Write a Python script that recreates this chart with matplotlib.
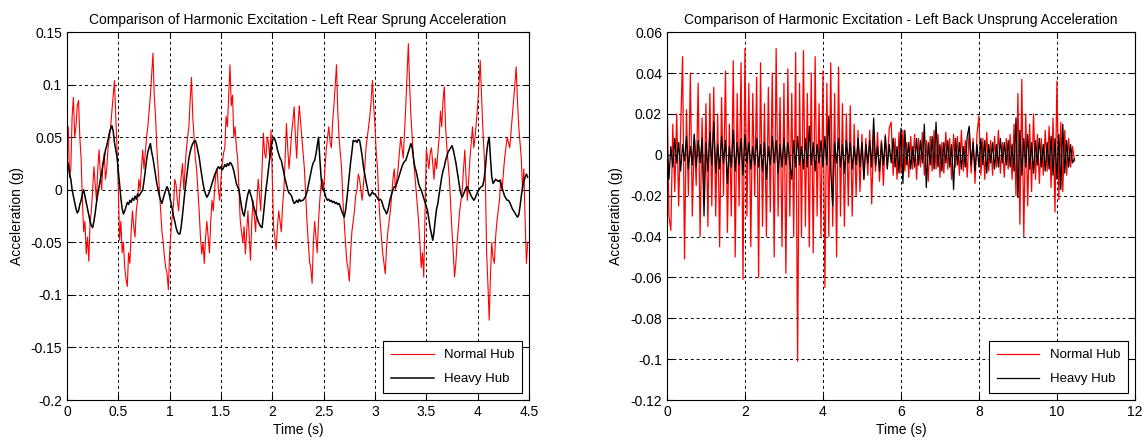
import numpy as np
import matplotlib
matplotlib.use("Agg")
import matplotlib.pyplot as plt
from matplotlib.ticker import FuncFormatter, MultipleLocator

plt.rcParams['font.family'] = ['Liberation Sans', 'DejaVu Sans']

# left panel: sprung acceleration, one sample every 0.0125 s (8 per row = 0.1 s)
sprung_dt = 0.0125
sprung_normal = [
    0.045, 0.06, 0.012, 0.02, 0.07, 0.088, 0.05, 0.06,
    0.08, 0.085, 0.05, 0.03, -0.01, -0.04, -0.03, -0.061,
    -0.045, -0.068, -0.03, -0.02, 0.0, 0.022, 0.005, -0.01,
    0.02, 0.038, 0.015, 0.0, 0.025, 0.035, 0.01, 0.02,
    0.04, 0.05, 0.06, 0.075, 0.09, 0.104, 0.07, 0.04,
    0.0, -0.048, -0.03, -0.06, -0.05, -0.074, -0.085, -0.092,
    -0.06, -0.07, -0.04, -0.02, -0.035, -0.045, -0.02, -0.01,
    0.01, 0.0, 0.02, 0.038, 0.02, 0.035, 0.05, 0.06,
    0.075, 0.09, 0.11, 0.13, 0.09, 0.07, 0.04, 0.02,
    0.0, -0.02, -0.04, -0.05, -0.065, -0.074, -0.08, -0.095,
    -0.06, -0.04, -0.025, -0.015, 0.01, 0.005, -0.01, -0.02,
    0.0, 0.012, 0.025, 0.0, 0.02, 0.038, 0.05, 0.06,
    0.085, 0.107, 0.07, 0.05, 0.03, 0.02, 0.0, -0.02,
    -0.045, -0.061, -0.05, -0.07, -0.045, -0.03, -0.045, -0.06,
    -0.03, -0.01, -0.02, 0.0, 0.015, 0.02, 0.0, -0.01,
    0.01, 0.025, 0.035, 0.04, 0.07, 0.06, 0.09, 0.119,
    0.08, 0.09, 0.05, 0.06, 0.04, 0.03, 0.0, -0.029,
    -0.04, -0.05, -0.035, -0.061, -0.04, -0.02, -0.045, -0.067,
    -0.03, -0.01, -0.025, -0.04, -0.01, 0.01, -0.005, -0.02,
    0.02, 0.054, 0.035, 0.03, 0.05, 0.045, 0.03, 0.057,
    0.01, -0.036, -0.045, -0.057, -0.035, -0.02, -0.03, -0.04,
    -0.015, 0.0, 0.03, 0.063, 0.04, 0.02, 0.035, 0.054,
    0.065, 0.079, 0.05, 0.03, 0.06, 0.08, 0.065, 0.05,
    0.035, 0.02, -0.005, -0.03, -0.05, -0.068, -0.075, -0.089,
    -0.05, -0.03, -0.045, -0.06, -0.03, -0.01, 0.005, 0.01,
    0.0, 0.02, 0.038, 0.05, 0.06, 0.045, 0.04, 0.065,
    0.08, 0.1, 0.119, 0.075, 0.05, 0.035, 0.02, -0.01,
    -0.03, -0.05, -0.068, -0.075, -0.087, -0.06, -0.04, -0.03,
    -0.02, -0.005, 0.0, 0.015, 0.01, 0.0, -0.01, 0.005,
    0.02, 0.04, 0.05, 0.06, 0.07, 0.085, 0.104, 0.08,
    0.06, 0.035, 0.02, -0.01, -0.03, -0.045, -0.06, -0.07,
    -0.08, -0.055, -0.04, -0.03, -0.02, -0.005, 0.01, 0.02,
    0.0, 0.01, 0.02, 0.035, 0.05, 0.04, 0.03, 0.055,
    0.08, 0.11, 0.139, 0.1, 0.07, 0.05, 0.03, 0.015,
    0.0, -0.015, -0.03, -0.05, -0.074, -0.06, -0.083, -0.02,
    0.038, 0.03, 0.02, 0.035, 0.04, 0.025, 0.01, 0.03,
    0.02, 0.035, 0.05, 0.075, 0.06, 0.085, 0.098, 0.06,
    0.04, 0.025, 0.01, -0.015, -0.04, -0.06, -0.083, -0.07,
    -0.05, -0.035, -0.02, -0.01, 0.0, 0.02, 0.038, 0.01,
    -0.01, 0.01, 0.03, 0.045, 0.06, 0.04, 0.05, 0.065,
    0.08, 0.1, 0.123, 0.09, 0.06, 0.035, 0.01, -0.06,
    -0.09, -0.124, -0.08, -0.05, -0.065, -0.07, -0.045, -0.03,
    -0.02, -0.01, 0.01, 0.0, 0.015, 0.03, 0.04, 0.05,
    0.045, 0.04, 0.055, 0.07, 0.085, 0.1, 0.117, 0.085,
    0.06, 0.045, 0.03, 0.0, 0.02, -0.03, -0.07, -0.05,
]
sprung_heavy = [
    0.028, 0.024, 0.015, 0.01, 0.0, -0.006, -0.012, -0.018,
    -0.022, -0.02, -0.014, -0.01, -0.004, 0.0, -0.006, -0.012,
    -0.018, -0.024, -0.03, -0.034, -0.036, -0.03, -0.022, -0.012,
    -0.004, 0.003, 0.01, 0.016, 0.024, 0.03, 0.038, 0.042,
    0.048, 0.054, 0.058, 0.061, 0.056, 0.045, 0.038, 0.031,
    0.018, 0.006, -0.008, -0.018, -0.023, -0.02, -0.016, -0.012,
    -0.014, -0.01, -0.012, -0.008, -0.01, -0.006, -0.009, -0.004,
    -0.006, -0.004, -0.002, 0.0, 0.008, 0.018, 0.028, 0.036,
    0.04, 0.044, 0.036, 0.03, 0.022, 0.014, 0.006, 0.0,
    -0.006, -0.01, -0.013, -0.008, -0.004, 0.0, 0.003, 0.0,
    -0.006, -0.012, -0.018, -0.025, -0.03, -0.036, -0.04, -0.042,
    -0.042, -0.035, -0.024, -0.012, 0.0, 0.01, 0.02, 0.03,
    0.036, 0.041, 0.044, 0.046, 0.047, 0.043, 0.037, 0.031,
    0.022, 0.014, 0.006, 0.0, -0.004, -0.007, -0.005, -0.002,
    0.002, 0.006, 0.01, 0.014, 0.017, 0.02, 0.022, 0.02,
    0.022, 0.019, 0.021, 0.024, 0.022, 0.025, 0.023, 0.026,
    0.025, 0.022, 0.018, 0.012, 0.006, 0.003, 0.0, -0.008,
    -0.016, -0.022, -0.025, -0.018, -0.01, -0.004, 0.0, -0.004,
    -0.008, -0.014, -0.018, -0.022, -0.026, -0.03, -0.033, -0.035,
    -0.036, -0.025, -0.012, 0.0, 0.009, 0.02, 0.03, 0.04,
    0.046, 0.05, 0.048, 0.044, 0.038, 0.034, 0.03, 0.028,
    0.022, 0.016, 0.01, 0.005, 0.0, -0.003, -0.004, -0.006,
    -0.01, -0.013, -0.012, -0.01, -0.012, -0.009, -0.011, -0.01,
    -0.01, -0.008, -0.006, -0.002, 0.004, 0.01, 0.016, 0.022,
    0.026, 0.028, 0.034, 0.042, 0.05, 0.03, 0.012, 0.0,
    0.0, -0.004, -0.008, -0.01, -0.009, -0.011, -0.01, -0.012,
    -0.011, -0.013, -0.012, -0.014, -0.013, -0.016, -0.02, -0.023,
    -0.026, -0.02, -0.01, 0.002, 0.015, 0.026, 0.036, 0.047,
    0.046, 0.047, 0.045, 0.048, 0.047, 0.04, 0.032, 0.022,
    0.015, 0.008, 0.002, -0.004, -0.006, -0.004, -0.002, -0.004,
    -0.004, -0.006, -0.008, -0.01, -0.009, -0.01, -0.014, -0.018,
    -0.02, -0.023, -0.02, -0.014, -0.008, -0.004, 0.0, 0.003,
    0.003, 0.006, 0.01, 0.014, 0.018, 0.022, 0.025, 0.027,
    0.028, 0.032, 0.036, 0.04, 0.044, 0.04, 0.03, 0.022,
    0.018, 0.012, 0.006, 0.002, 0.0, -0.004, -0.008, -0.012,
    -0.016, -0.02, -0.028, -0.036, -0.042, -0.048, -0.04, -0.028,
    -0.018, -0.013, -0.004, 0.004, 0.012, 0.018, 0.022, 0.028,
    0.032, 0.036, 0.038, 0.04, 0.042, 0.038, 0.032, 0.026,
    0.018, 0.01, 0.002, -0.004, -0.007, -0.004, -0.001, 0.002,
    0.003, 0.0, -0.003, -0.006, -0.008, -0.01, -0.008, -0.005,
    -0.002, 0.0, 0.002, 0.003, 0.004, 0.01, 0.02, 0.035,
    0.045, 0.05, 0.03, 0.012, 0.006, 0.008, 0.01, 0.009,
    0.008, 0.009, 0.006, 0.002, -0.002, -0.006, -0.008, -0.01,
    -0.01, -0.012, -0.015, -0.018, -0.02, -0.022, -0.024, -0.026,
    -0.024, -0.016, -0.006, 0.003, 0.008, 0.012, 0.015, 0.012,
]

# right panel: unsprung acceleration, one sample every 0.05 s (10 per row = 0.5 s)
unsprung_dt = 0.05
unsprung_normal = [
    0.036, -0.03, -0.037, 0.015, -0.018, 0.02, -0.025, 0.012, 0.048, -0.051,
    0.022, -0.02, 0.04, -0.03, 0.01, -0.015, 0.035, -0.04, 0.018, -0.022,
    0.025, -0.035, 0.03, -0.025, 0.033, -0.03, 0.02, -0.045, 0.028, -0.02,
    0.041, -0.038, 0.015, -0.03, 0.046, -0.05, 0.03, -0.025, 0.045, -0.061,
    0.052, -0.03, 0.035, -0.045, 0.03, -0.02, 0.038, -0.06, 0.045, -0.035,
    0.025, -0.04, 0.033, -0.028, 0.04, -0.05, 0.052, -0.03, 0.028, -0.045,
    0.035, -0.058, 0.042, -0.03, 0.03, -0.04, 0.05, -0.101, 0.035, -0.04,
    0.051, -0.035, 0.03, -0.045, 0.04, -0.048, 0.048, -0.03, 0.025, -0.04,
    0.041, -0.065, 0.035, -0.04, 0.045, -0.035, 0.03, -0.05, 0.043, -0.03,
    0.025, -0.035, 0.02, -0.025, 0.024, -0.03, 0.015, -0.02, 0.012, -0.018,
    0.01, -0.012, 0.008, -0.01, 0.012, -0.024, 0.009, -0.008, 0.011, -0.013,
    0.007, -0.015, 0.01, -0.006, 0.013, 0.016, -0.01, 0.008, -0.012, 0.011,
    -0.009, 0.012, -0.008, 0.006, -0.011, 0.009, -0.007, 0.01, -0.012, 0.008,
    -0.006, 0.011, -0.01, 0.007, -0.013, 0.009, -0.008, 0.012, -0.007, 0.01,
    -0.011, 0.006, -0.009, 0.011, -0.007, 0.008, -0.012, 0.01, -0.006, 0.009,
    -0.01, 0.012, -0.008, 0.007, -0.011, 0.013, -0.009, 0.008, -0.014, 0.01,
    0.019, -0.01, 0.008, -0.012, 0.011, -0.008, 0.007, -0.01, 0.009, -0.006,
    0.012, -0.009, 0.006, -0.011, 0.008, -0.007, 0.01, -0.012, 0.015, -0.02,
    0.03, -0.034, 0.037, -0.04, 0.02, -0.025, 0.015, -0.018, 0.02, -0.012,
    0.01, -0.014, 0.008, -0.01, 0.012, -0.008, 0.014, -0.016, 0.018, -0.028,
    0.036, -0.022, 0.016, -0.018, 0.012, -0.01, 0.008, -0.006, 0.004, -0.003,
]
unsprung_heavy = [
    0.007, -0.012, 0.004, -0.006, 0.008, -0.004, 0.006, -0.008, 0.005, -0.003,
    0.009, -0.007, 0.004, -0.005, 0.01, -0.006, 0.007, -0.004, 0.008, -0.03,
    0.006, -0.008, 0.011, -0.005, 0.016, -0.009, 0.005, -0.007, 0.009, -0.004,
    0.007, -0.014, 0.004, -0.006, 0.012, -0.008, 0.006, -0.005, 0.008, -0.01,
    0.01, -0.004, 0.006, -0.007, 0.004, -0.005, 0.008, -0.006, 0.005, -0.008,
    0.006, -0.012, 0.004, -0.005, 0.009, -0.004, 0.007, -0.009, 0.005, -0.006,
    0.008, -0.005, 0.006, -0.004, -0.012, 0.007, -0.006, 0.009, -0.005, 0.004,
    -0.007, 0.008, -0.006, 0.014, -0.005, 0.006, -0.008, 0.005, -0.004, 0.007,
    -0.006, 0.009, -0.005, 0.019, -0.008, -0.025, 0.006, -0.004, 0.008, -0.006,
    0.005, -0.009, 0.007, -0.004, 0.006, -0.007, 0.004, -0.005, 0.008, -0.006,
    0.006, -0.012, 0.005, -0.004, 0.007, -0.006, 0.018, -0.005, 0.004, -0.008,
    0.006, -0.005, 0.009, -0.007, 0.005, -0.004, 0.008, -0.006, 0.004, -0.009,
    0.013, -0.014, 0.012, -0.005, 0.006, -0.007, 0.004, -0.006, 0.008, -0.005,
    0.007, -0.004, 0.015, -0.016, 0.006, -0.005, 0.009, -0.007, 0.016, -0.006,
    0.005, -0.008, 0.006, -0.004, 0.007, -0.006, 0.005, -0.017, 0.008, -0.005,
    0.006, -0.007, 0.004, -0.006, 0.009, 0.014, -0.005, 0.006, -0.008, 0.005,
    -0.006, 0.008, -0.005, 0.007, -0.009, 0.005, -0.004, 0.006, -0.007, 0.005,
    -0.006, 0.008, -0.004, 0.006, -0.005, 0.007, -0.006, 0.005, -0.008, 0.018,
    -0.021, 0.012, -0.01, 0.008, -0.006, 0.01, -0.007, 0.006, -0.009, 0.007,
    -0.005, 0.008, -0.006, 0.005, -0.008, 0.006, -0.007, 0.009, -0.01, 0.008,
    -0.012, 0.01, -0.017, 0.015, -0.009, 0.007, -0.006, 0.005, -0.004, -0.002,
]

series_labels = ['Normal Hub', 'Heavy Hub']


def _fmt(v, _pos):
    v = round(v, 6)
    return f"{v + 0.0:g}"


def _style_axes(ax, title, xlim, ylim, xstep, ystep):
    ax.set_xlim(xlim)
    ax.set_ylim(ylim)
    ax.xaxis.set_major_locator(MultipleLocator(xstep))
    ax.yaxis.set_major_locator(MultipleLocator(ystep))
    ax.xaxis.set_major_formatter(FuncFormatter(_fmt))
    ax.yaxis.set_major_formatter(FuncFormatter(_fmt))
    ax.grid(True, color='k', linestyle=(0, (3, 3)), linewidth=0.7)
    ax.tick_params(direction='in', length=4, labelsize=10, top=True, right=True)
    for s in ax.spines.values():
        s.set_linewidth(0.8)
    ax.set_title(title, fontsize=10, pad=6)
    ax.set_xlabel("Time (s)", fontsize=10, labelpad=3)
    ax.set_ylabel("Acceleration (g)", fontsize=10, labelpad=5)
    leg = ax.legend(loc='lower right', fontsize=9.5, fancybox=False,
                    framealpha=1, edgecolor='k', borderaxespad=0.5,
                    handlelength=3.2, borderpad=0.6, labelspacing=0.9)
    leg.get_frame().set_linewidth(0.8)


fig = plt.figure(figsize=(11.45, 4.4), dpi=100)
ax1 = fig.add_axes([0.0585, 0.0909, 0.4035, 0.836])
ax2 = fig.add_axes([0.5825, 0.0909, 0.4087, 0.836])

t1 = np.arange(len(sprung_normal)) * sprung_dt
ax1.plot(t1, sprung_normal, color='red', lw=0.8, label=series_labels[0])
ax1.plot(t1, sprung_heavy, color='black', lw=1.1, label=series_labels[1])
_style_axes(ax1, "Comparison of Harmonic Excitation - Left Rear Sprung Acceleration",
            (0, 4.5), (-0.2, 0.15), 0.5, 0.05)

t2 = np.arange(len(unsprung_normal)) * unsprung_dt
ax2.plot(t2, unsprung_normal, color='red', lw=0.9, label=series_labels[0])
ax2.plot(t2, unsprung_heavy, color='black', lw=0.9, label=series_labels[1])
_style_axes(ax2, "Comparison of Harmonic Excitation - Left Back Unsprung Acceleration",
            (0, 12), (-0.12, 0.06), 2, 0.02)

fig.savefig("out.png", dpi=100)
